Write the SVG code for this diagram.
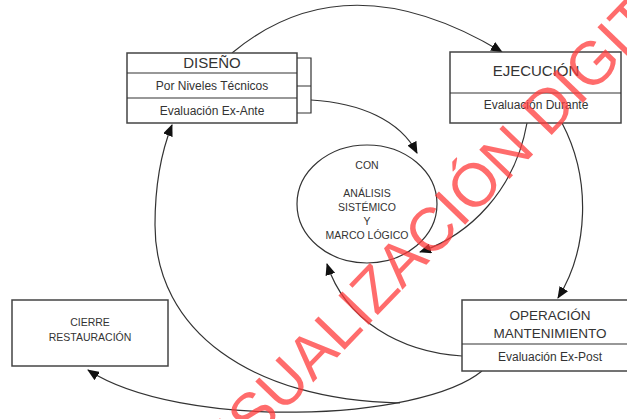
<svg xmlns="http://www.w3.org/2000/svg" width="627" height="419" viewBox="0 0 627 419">
<defs>
<marker id="ah" markerWidth="12" markerHeight="10" refX="11" refY="5" orient="auto" markerUnits="userSpaceOnUse">
<path d="M0,0 L12,5 L0,10 Z" fill="#111"/>
</marker>
<style>
.box{fill:#fff;stroke:#444;stroke-width:1.5}
.ln{fill:none;stroke:#333;stroke-width:1.2}
.con{fill:none;stroke:#333;stroke-width:1.2;marker-end:url(#ah)}
text{font-family:"Liberation Sans",Arial,sans-serif;fill:#333;text-anchor:middle}
.t1{font-size:15px}
.t2{font-size:12px}
.t3{font-size:10.5px}
.t4{font-size:13.5px}
.wm{font-family:"Liberation Sans",Arial,sans-serif;font-size:61px;fill:#ff3b3b;fill-opacity:0.75;text-anchor:middle}
</style>
</defs>
<rect width="627" height="419" fill="#fff"/>
<g id="connectors">
<path class="con" d="M232,53 Q346,-42 502,52"/>
<path class="con" d="M311,100 C360,103 400,120 417,153"/>
<path class="con" d="M527,123 C515,190 470,235 420,252"/>
<path class="con" d="M562,123 C592,180 588,250 558,298"/>
<path class="con" d="M462,356 C400,352 345,320 327,264"/>
<path class="con" d="M482,371 C420,422 180,430 88,370"/>
<path class="con" d="M400,403 C250,400 155,330 155,225 C155,180 162,150 172,125"/>
</g>
<g id="diseno">
<rect class="box" x="127" y="53" width="170" height="70"/>
<line class="ln" x1="127" y1="73" x2="297" y2="73"/>
<line class="ln" x1="127" y1="98" x2="297" y2="98"/>
<path class="ln" d="M297,58 H311 V113 H297 M297,86 H311"/>
<text class="t1" x="212" y="68">DISEÑO</text>
<text class="t2" x="212" y="90">Por Niveles Técnicos</text>
<text class="t2" x="212" y="115">Evaluación Ex-Ante</text>
</g>
<g id="ejecucion">
<rect class="box" x="450" y="52" width="171" height="71"/>
<line class="ln" x1="450" y1="93" x2="621" y2="93"/>
<text class="t1" x="536" y="76">EJECUCIÓN</text>
<text class="t2" x="536" y="109">Evaluación Durante</text>
</g>
<g id="centro">
<ellipse cx="367" cy="204" rx="70" ry="59" fill="none" stroke="#333" stroke-width="1.2"/>
<text class="t3" x="367" y="169">CON</text>
<text class="t3" x="367" y="197">ANÁLISIS</text>
<text class="t3" x="367" y="211">SISTÉMICO</text>
<text class="t3" x="367" y="225">Y</text>
<text class="t3" x="367" y="239">MARCO LÓGICO</text>
</g>
<g id="cierre">
<rect class="box" x="12" y="300" width="156" height="66"/>
<text class="t3" x="90" y="326">CIERRE</text>
<text class="t3" x="90" y="341">RESTAURACIÓN</text>
</g>
<g id="operacion">
<rect class="box" x="462" y="300" width="176" height="71"/>
<line class="ln" x1="462" y1="344" x2="638" y2="344"/>
<text class="t4" x="550" y="320">OPERACIÓN</text>
<text class="t4" x="550" y="338">MANTENIMIENTO</text>
<text class="t2" x="550" y="361">Evaluación Ex-Post</text>
</g>
<text class="wm" transform="translate(462,228) rotate(-46)" x="0" y="0">VISUALIZACIÓN DIGITAL</text>
</svg>
